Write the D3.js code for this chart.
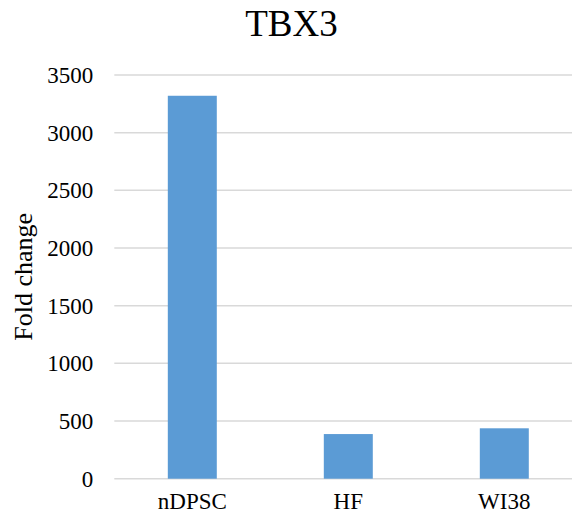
<!DOCTYPE html>
<html>
<head>
<meta charset="utf-8">
<script src="https://cdn.jsdelivr.net/npm/d3@7"></script>
<style>
  html, body { margin: 0; padding: 0; background: #fff; }
  svg { display: block; }
  svg text { font-family: "Liberation Serif", "Times New Roman", serif; fill: #000; }
</style>
</head>
<body>
<svg id="chart" width="572" height="519"></svg>
<script>
// Fold change of TBX3 expression per cell type
const categories = ["nDPSC", "HF", "WI38"];
const foldChange = [3320, 387, 437];
const yTicks = [0, 500, 1000, 1500, 2000, 2500, 3000, 3500];
const chartTitle = "TBX3";
const yTitle = "Fold change";

const svg = d3.select("#chart");
const plot = { left: 114.3, right: 582.3, top: 75, bottom: 478.7 };

const x = d3.scaleBand()
  .domain(categories)
  .range([plot.left, plot.right])
  .paddingInner(0.686)
  .paddingOuter(0.343);

const y = d3.scaleLinear()
  .domain([0, 3500])
  .range([plot.bottom, plot.top]);

// Horizontal gridlines
svg.append("g")
  .selectAll("line")
  .data(yTicks)
  .join("line")
  .attr("x1", plot.left)
  .attr("x2", plot.right)
  .attr("y1", d => y(d))
  .attr("y2", d => y(d))
  .attr("stroke", "#d9d9d9")
  .attr("stroke-width", 1.5);

// Bars
svg.append("g")
  .selectAll("rect")
  .data(categories.map((c, i) => ({ c, v: foldChange[i] })))
  .join("rect")
  .attr("x", d => x(d.c))
  .attr("width", x.bandwidth())
  .attr("y", d => y(d.v))
  .attr("height", d => y(0) - y(d.v))
  .attr("fill", "#5b9bd5");

// Y axis tick labels
const yAxis = d3.axisLeft(y)
  .tickValues(yTicks)
  .tickFormat(d3.format("d"))
  .tickSize(0)
  .tickPadding(21);
const gy = svg.append("g")
  .attr("transform", `translate(${plot.left},0)`)
  .call(yAxis)
  .attr("font-family", null)
  .attr("font-size", 23);
gy.select(".domain").remove();

// X axis category labels
const xAxis = d3.axisBottom(x).tickSize(0).tickPadding(14);
const gx = svg.append("g")
  .attr("transform", `translate(0,${plot.bottom})`)
  .call(xAxis)
  .attr("font-family", null)
  .attr("font-size", 23);
gx.select(".domain").remove();

// Title
svg.append("text")
  .attr("x", 291.5)
  .attr("y", 36)
  .attr("text-anchor", "middle")
  .attr("font-size", 37)
  .text(chartTitle);

// Y axis title
svg.append("text")
  .attr("transform", `translate(32,${(plot.top + plot.bottom) / 2}) rotate(-90)`)
  .attr("text-anchor", "middle")
  .attr("font-size", 26)
  .text(yTitle);
</script>
</body>
</html>
